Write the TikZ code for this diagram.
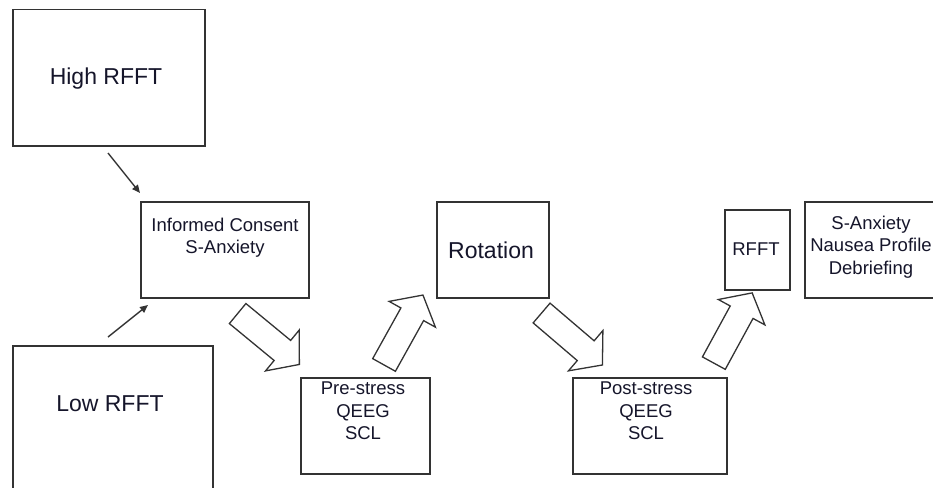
\documentclass[tikz,border=0pt]{standalone}
\usepackage{fontspec}
\setmainfont{Liberation Sans}
\usetikzlibrary{arrows.meta}
\definecolor{boxline}{HTML}{333333}
\definecolor{txt}{HTML}{15152A}
\begin{document}
\begin{tikzpicture}[x=1pt,y=-1pt,
  box/.style={draw=boxline,line width=1.5pt,inner sep=0pt,anchor=north west},
  bigtxt/.style={text=txt,font=\fontsize{23}{26}\selectfont,inner sep=0pt},
  smalltxt/.style={text=txt,font=\fontsize{18.5}{22.3}\selectfont,align=center,inner sep=0pt,anchor=north},
  thin arrow/.style={draw=boxline,line width=1.4pt,-{Triangle[length=8pt,width=7pt]}},
  fatarrow/.style={draw=boxline,line width=1.3pt,fill=white,line join=miter},
  barrow/.pic={\path[fatarrow] (-40,-13) -- (18,-13) -- (18,-26.5) -- (40,0) -- (18,26.5) -- (18,13) -- (-40,13) -- cycle;}]
\useasboundingbox (0,0) rectangle (933,487);
\clip (0,0) rectangle (933,487);

% boxes
\node[box,minimum width=192pt,minimum height=136pt] (high) at (12,9) {};
\node[bigtxt] (hight) at (106,79) {High RFFT};

\node[box,minimum width=168pt,minimum height=96pt] (ic) at (140,201) {};
\node[smalltxt] (ict) at (225,218) {Informed Consent\\S-Anxiety};

\node[box,minimum width=200pt,minimum height=160pt] (low) at (12,345) {};
\node[bigtxt] (lowt) at (110,404) {Low RFFT};

\node[box,minimum width=129pt,minimum height=96pt] (pre) at (300,377) {};
\node[smalltxt] (pret) at (363,382) {Pre-stress\\QEEG\\SCL};

\node[box,minimum width=112pt,minimum height=96pt] (rot) at (436,201) {};
\node[bigtxt] (rott) at (491,250) {Rotation};

\node[box,minimum width=154pt,minimum height=96pt] (post) at (572,377) {};
\node[smalltxt] (postt) at (646,382) {Post-stress\\QEEG\\SCL};

\node[box,minimum width=65pt,minimum height=80pt] (rfft) at (724,209) {};
\node[smalltxt,anchor=center] (rfftt) at (756,249) {RFFT};

\node[box,minimum width=136pt,minimum height=96pt] (fin) at (804,201) {};
\node[smalltxt] (fint) at (871,216) {S-Anxiety\\Nausea Profile\\Debriefing};

% thin arrows
\coordinate (h1) at (108,153);
\coordinate (h2) at (140,193);
\coordinate (l1) at (108,337);
\coordinate (l2) at (148,305);
\draw[thin arrow] (h1) -- (h2);
\draw[thin arrow] (l1) -- (l2);

% block arrows
\pic[rotate=-39.5] (a1) at (268.5,339) {barrow};
\pic[rotate=60.9] (a2) at (403.5,330) {barrow};
\pic[rotate=-40.5] (a3) at (572,339) {barrow};
\pic[rotate=61.4] (a4) at (733,328) {barrow};
\end{tikzpicture}
\end{document}
